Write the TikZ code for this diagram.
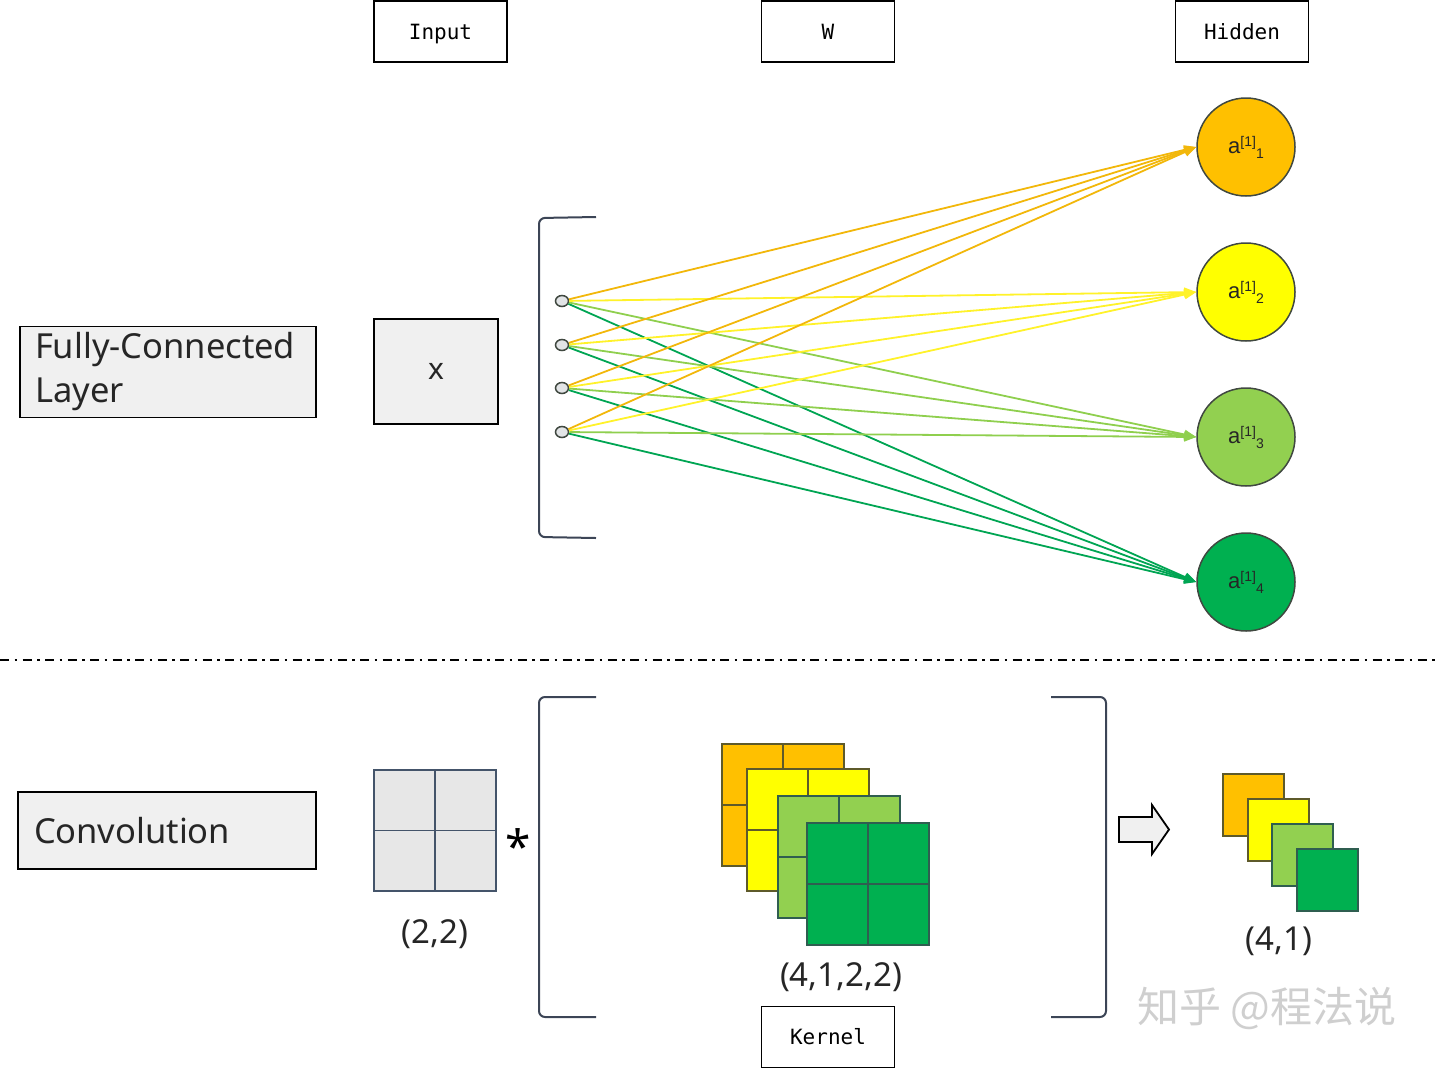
\documentclass[tikz,border=0pt]{standalone}
\usepackage{fontspec}
\setmainfont{Noto Sans}
\newfontfamily\monof{DejaVu Sans Mono}
\newfontfamily\arialf{Liberation Sans}
\newfontfamily\cjkf{Noto Sans CJK SC}
\usetikzlibrary{arrows.meta,shapes.geometric}
\definecolor{boxgray}{HTML}{F0F0F0}
\definecolor{gridgray}{HTML}{E7E7E7}
\definecolor{gridline}{HTML}{44546A}
\definecolor{brk}{HTML}{3C4556}
\definecolor{circborder}{HTML}{404840}
\definecolor{inpgray}{HTML}{E2E4E6}
\definecolor{corange}{HTML}{FFC000}
\definecolor{cyellow}{HTML}{FFFF00}
\definecolor{clgreen}{HTML}{92D050}
\definecolor{cgreen}{HTML}{00B050}
\definecolor{lorange}{HTML}{F2B70A}
\definecolor{lyellow}{HTML}{FFF22A}
\definecolor{llgreen}{HTML}{8FCF4E}
\definecolor{lgreen}{HTML}{00A553}
\definecolor{bwarm}{HTML}{5E5A2A}
\definecolor{bcool}{HTML}{2F5E50}
\definecolor{txt}{HTML}{262626}
\definecolor{wmgray}{HTML}{CFCFCF}
\tikzset{
  labelbox/.style={draw=black, line width=1.5pt, minimum width=133pt, minimum height=61pt, inner sep=0pt, text height=18pt, text depth=3pt, font=\monof\fontsize{21}{25}\selectfont},
  greybox/.style={draw=black, fill=boxgray, line width=1.5pt, inner sep=0pt},
  hid/.style={circle, draw=circborder, line width=1.5pt, minimum size=98pt, inner sep=0pt, font=\arialf\fontsize{22}{26}\selectfont, text=txt},
  inp/.style={ellipse, draw=circborder, fill=inpgray, line width=1.5pt, minimum width=13pt, minimum height=11pt, inner sep=0pt},
  conn/.style={line width=1.8pt, -{Triangle[length=12pt,width=9pt]}},
  bracket/.style={draw=brk, line width=2pt, rounded corners=6pt},
  sq/.style={line width=1.5pt},
  dimtext/.style={font=\fontsize{33}{40}\selectfont, text=txt, inner sep=0pt},
}
\newcommand{\hidlab}[1]{a\raisebox{7pt}{\fontsize{14}{14}\selectfont[1]}\raisebox{-5pt}{\fontsize{14}{14}\selectfont #1}}
\begin{document}
\begin{tikzpicture}[x=1pt,y=-1pt]
\useasboundingbox (0,0) rectangle (1440,1069);
% header labels
\node[labelbox] (inputlab) at (440.5,31.5) {Input};
\node[labelbox] (wlab) at (828,31.5) {W};
\node[labelbox] (hidlab) at (1242,31.5) {Hidden};
\node[labelbox] (kernlab) at (828,1037) {Kernel};
% fully connected part
\node[greybox, minimum width=296pt, minimum height=91pt, text width=266pt, align=left, font=\fontsize{34.5}{44}\selectfont, text=txt] (fc) at (168,372) {Fully-Connected\\Layer};
\node[greybox, minimum width=124pt, minimum height=105pt, font=\fontsize{30}{36}\selectfont, text=txt] (xbox) at (436,371.5) {x};
\draw[bracket] (596,217) -- (539,218) -- (539,537) -- (596,538);
\node[inp] (i1) at (562,301) {};
\node[inp] (i2) at (562,345) {};
\node[inp] (i3) at (562,388) {};
\node[inp] (i4) at (562,432) {};
\node[hid, fill=corange] (h1) at (1246,147) {\hidlab{1}};
\node[hid, fill=cyellow] (h2) at (1246,292) {\hidlab{2}};
\node[hid, fill=clgreen] (h3) at (1246,437) {\hidlab{3}};
\node[hid, fill=cgreen] (h4) at (1246,582) {\hidlab{4}};
\foreach \j/\c in {4/lgreen,3/llgreen,2/lyellow,1/lorange}{
  \foreach \i in {1,...,4}{
    \draw[conn, \c] (i\i) -- (h\j.west);
  }
}
% separator
\coordinate (dl) at (0,660);
\coordinate (dr) at (1440,660);
\draw[line width=2pt, dash pattern=on 9pt off 5.5pt on 2.5pt off 5.5pt] (dl) -- (dr);
% convolution part
\node[greybox, minimum width=298pt, minimum height=77pt, text width=266pt, align=left, font=\fontsize{34.5}{40}\selectfont, text=txt] (conv) at (167,830.5) {Convolution};
\draw[sq, draw=gridline, fill=gridgray] (374,770) rectangle (496,891);
\draw[sq, draw=gridline] (435,770) -- (435,891);
\draw[sq, draw=gridline] (374,830.5) -- (496,830.5);
\node[font=\bfseries\fontsize{46}{46}\selectfont, inner sep=0pt] (star) at (518,846) {*};
\node[dimtext] (d22) at (435,934) {(2,2)};
\draw[bracket] (596,697) -- (539,697) -- (539,1017) -- (596,1017);
\draw[bracket] (1051,697) -- (1106,697) -- (1106,1017) -- (1051,1017);
\foreach \x/\y/\c/\b in {722/744/corange/bwarm, 747/769/cyellow/bwarm, 778/796/clgreen/bcool, 807/823/cgreen/bcool}{
  \draw[sq, draw=\b, fill=\c] (\x,\y) rectangle ++(122,122);
  \draw[sq, draw=\b] (\x+61,\y) -- ++(0,122);
  \draw[sq, draw=\b] (\x,\y+61) -- ++(122,0);
}
\node[dimtext] (d4122) at (841,977) {(4,1,2,2)};
\draw[line width=1.8pt, fill=boxgray, line join=miter] (1119,817) -- (1152,817) -- (1152,805) -- (1169,829.5) -- (1152,854) -- (1152,842) -- (1119,842) -- cycle;
\foreach \x/\y/\c/\b in {1223/774/corange/bwarm, 1248/799/cyellow/bwarm, 1272/824/clgreen/bcool, 1297/849/cgreen/bcool}{
  \draw[sq, draw=\b, fill=\c] (\x,\y) rectangle ++(61,62);
}
\node[dimtext] (d41) at (1279,941) {(4,1)};
\node[font=\cjkf\fontsize{42}{42}\selectfont, text=wmgray, inner sep=0pt] (wm) at (1267,1008) {知乎 @程法说};
\end{tikzpicture}
\end{document}
